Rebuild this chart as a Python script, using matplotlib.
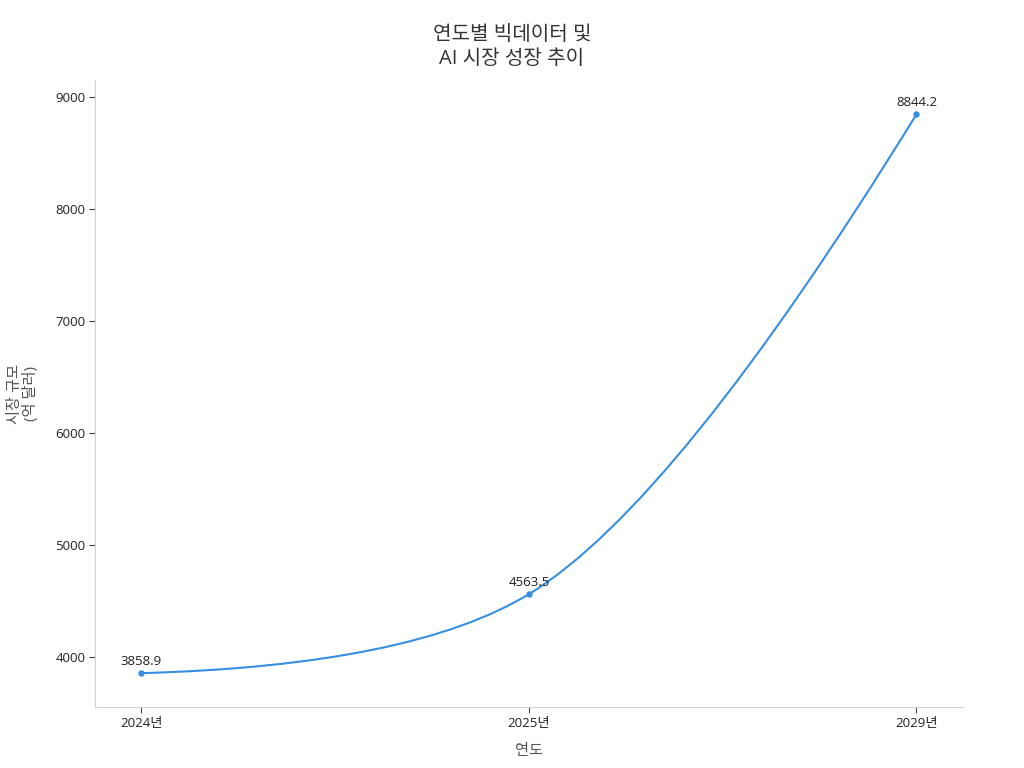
import matplotlib.pyplot as plt
import numpy as np
from matplotlib.path import Path
from matplotlib.patches import PathPatch

plt.rcParams['font.family'] = ['Open Sans', 'Noto Sans CJK KR', 'DejaVu Sans']

years = ['2024년', '2025년', '2029년']
market = [3858.9, 4563.5, 8844.2]

line_color = '#368fe0'


def tangent(prev, cur, nxt, smooth=1.0):
    # catmull-rom style control points (same idea as plotly's 'spline' line shape)
    d1 = prev - cur
    d2 = nxt - cur
    a1 = np.hypot(*d1) ** 0.5
    a2 = np.hypot(*d2) ** 0.5
    num = (a2 * a2 * d1 - a1 * a1 * d2) * smooth
    return cur + num / (3 * a2 * (a1 + a2)), cur - num / (3 * a1 * (a1 + a2))


def spline_path(ax, x, y):
    pts = ax.transData.transform(np.column_stack([x, y]))
    tans = [tangent(pts[i - 1], pts[i], pts[i + 1]) for i in range(1, len(pts) - 1)]
    verts = [pts[0], tans[0][0], pts[1]]
    codes = [Path.MOVETO, Path.CURVE3, Path.CURVE3]
    for i in range(1, len(tans)):
        verts += [tans[i - 1][1], tans[i][0], pts[i + 1]]
        codes += [Path.CURVE4] * 3
    verts += [tans[-1][1], pts[-1]]
    codes += [Path.CURVE3] * 2
    verts = ax.transData.inverted().transform(np.array(verts))
    return Path(verts, codes)


xs = np.arange(len(years), dtype=float)

fig, ax = plt.subplots(figsize=(10.24, 7.68), dpi=100)
fig.subplots_adjust(left=0.093, right=0.94, top=0.896, bottom=0.079)

ax.set_xlim(-0.119, 2.119)
ax.set_ylim(3554, 9152)

ax.add_patch(PathPatch(spline_path(ax, xs, market), facecolor='none',
                       edgecolor=line_color, lw=1.5, capstyle='round'))
ax.plot(xs, market, 'o', color=line_color, ms=3.6)

for x, v in zip(xs, market):
    ax.annotate(f'{v}', (x, v), xytext=(0, 4), textcoords='offset points',
                ha='center', va='bottom', fontsize=9.5, color='#222222')

ax.set_xticks(xs)
ax.set_xticklabels(years)
ax.set_yticks([4000, 5000, 6000, 7000, 8000, 9000])

for sp in ['top', 'right']:
    ax.spines[sp].set_visible(False)
for sp in ['left', 'bottom']:
    ax.spines[sp].set_color('#d0d0d0')
ax.tick_params(colors='#444444', labelcolor='#222222', labelsize=9.5, length=4, pad=3)

fig.text(0.5, 0.968, '연도별 빅데이터 및\nAI 시장 성장 추이', ha='center', va='top',
         fontsize=14.5, color='#333333', linespacing=1.3)
ax.set_xlabel('연도', fontsize=11, color='#555555', labelpad=10)
ax.set_ylabel('시장 규모\n(억 달러)', fontsize=11, color='#555555', linespacing=1.0, va='center')
ax.yaxis.set_label_coords(-0.083, 0.5)

fig.savefig('out.png')
